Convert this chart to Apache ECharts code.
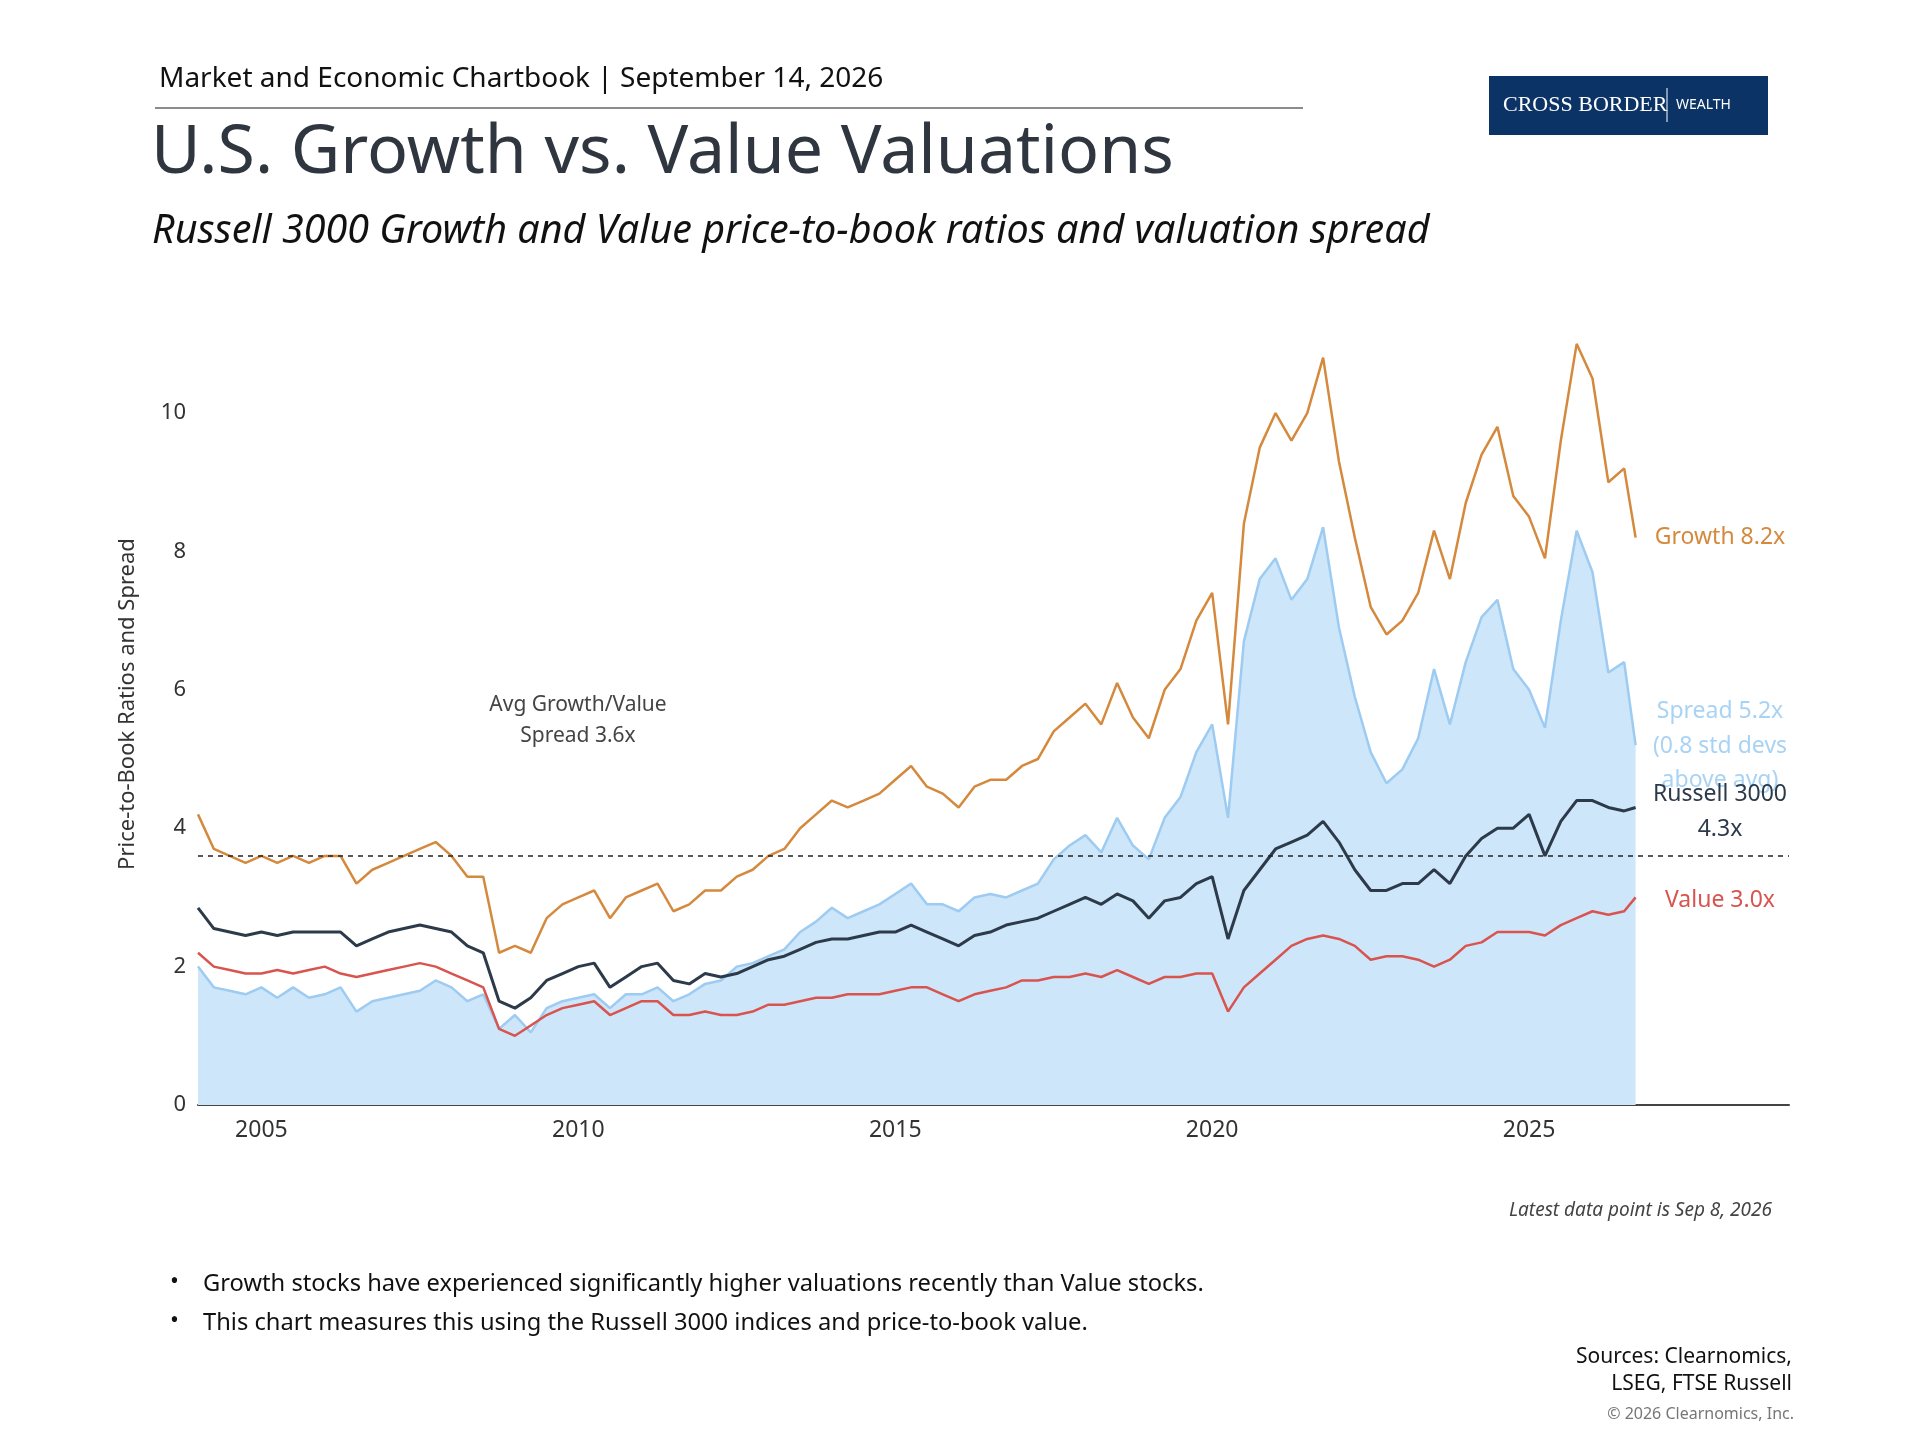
<!DOCTYPE html>
<html><head><meta charset="utf-8">
<script src="https://cdn.jsdelivr.net/npm/echarts@6/dist/echarts.min.js"></script>
<style>html,body{margin:0;padding:0;background:#fff}#c{width:1920px;height:1440px}</style>
</head><body><div id="c"></div>
<script>
// quarterly observations 2004.00 .. 2026.50, plus latest point (Sep 8, 2026)
const growth = [
4.2,3.7,3.6,3.5, 3.6,3.5,3.6,3.5, 3.6,3.6,3.2,3.4, 3.5,3.6,3.7,3.8, 3.6,3.3,3.3,2.2,
2.3,2.2,2.7,2.9, 3.0,3.1,2.7,3.0, 3.1,3.2,2.8,2.9, 3.1,3.1,3.3,3.4, 3.6,3.7,4.0,4.2,
4.4,4.3,4.4,4.5, 4.7,4.9,4.6,4.5, 4.3,4.6,4.7,4.7, 4.9,5.0,5.4,5.6, 5.8,5.5,6.1,5.6,
5.3,6.0,6.3,7.0, 7.4,5.5,8.4,9.5, 10.0,9.6,10.0,10.8, 9.3,8.2,7.2,6.8, 7.0,7.4,8.3,7.6,
8.7,9.4,9.8,8.8, 8.5,7.9,9.6,11.0, 10.5,9.0,9.2, 8.2];
const value = [
2.2,2.0,1.95,1.9, 1.9,1.95,1.9,1.95, 2.0,1.9,1.85,1.9, 1.95,2.0,2.05,2.0, 1.9,1.8,1.7,1.1,
1.0,1.15,1.3,1.4, 1.45,1.5,1.3,1.4, 1.5,1.5,1.3,1.3, 1.35,1.3,1.3,1.35, 1.45,1.45,1.5,1.55,
1.55,1.6,1.6,1.6, 1.65,1.7,1.7,1.6, 1.5,1.6,1.65,1.7, 1.8,1.8,1.85,1.85, 1.9,1.85,1.95,1.85,
1.75,1.85,1.85,1.9, 1.9,1.35,1.7,1.9, 2.1,2.3,2.4,2.45, 2.4,2.3,2.1,2.15, 2.15,2.1,2.0,2.1,
2.3,2.35,2.5,2.5, 2.5,2.45,2.6,2.7, 2.8,2.75,2.8, 3.0];
const russell = [
2.85,2.55,2.5,2.45, 2.5,2.45,2.5,2.5, 2.5,2.5,2.3,2.4, 2.5,2.55,2.6,2.55, 2.5,2.3,2.2,1.5,
1.4,1.55,1.8,1.9, 2.0,2.05,1.7,1.85, 2.0,2.05,1.8,1.75, 1.9,1.85,1.9,2.0, 2.1,2.15,2.25,2.35,
2.4,2.4,2.45,2.5, 2.5,2.6,2.5,2.4, 2.3,2.45,2.5,2.6, 2.65,2.7,2.8,2.9, 3.0,2.9,3.05,2.95,
2.7,2.95,3.0,3.2, 3.3,2.4,3.1,3.4, 3.7,3.8,3.9,4.1, 3.8,3.4,3.1,3.1, 3.2,3.2,3.4,3.2,
3.6,3.85,4.0,4.0, 4.2,3.6,4.1,4.4, 4.4,4.3,4.25, 4.3];
const spread = [
2.0,1.7,1.65,1.6, 1.7,1.55,1.7,1.55, 1.6,1.7,1.35,1.5, 1.55,1.6,1.65,1.8, 1.7,1.5,1.6,1.1,
1.3,1.05,1.4,1.5, 1.55,1.6,1.4,1.6, 1.6,1.7,1.5,1.6, 1.75,1.8,2.0,2.05, 2.15,2.25,2.5,2.65,
2.85,2.7,2.8,2.9, 3.05,3.2,2.9,2.9, 2.8,3.0,3.05,3.0, 3.1,3.2,3.55,3.75, 3.9,3.65,4.15,3.75,
3.55,4.15,4.45,5.1, 5.5,4.15,6.7,7.6, 7.9,7.3,7.6,8.35, 6.9,5.9,5.1,4.65, 4.85,5.3,6.3,5.5,
6.4,7.05,7.3,6.3, 6.0,5.45,7.0,8.3, 7.7,6.25,6.4, 5.2];
const dates = [];
for (let y = 2004; y <= 2026; y++) for (const q of [0, 0.25, 0.5, 0.75]) if (y + q <= 2026.5) dates.push(y + q);
dates.push(2026.68);
const yearTicks = [2005, 2010, 2015, 2020, 2025];
const yTicks = [0, 2, 4, 6, 8, 10];
const avgSpread = 3.6;

const pair = a => a.map((v, i) => [dates[i], v]);
const F = '"Noto Sans", sans-serif';
const chart = echarts.init(document.getElementById('c'));
const T = (x, y, text, o) => ({type: 'text', x, y, style: Object.assign({text, font: '22px ' + F, fill: '#333'}, o || {})});
chart.setOption({
  animation: false,
  grid: {left: 198, right: 131, top: 330, bottom: 335},
  xAxis: {type: 'value', min: 2004, max: 2029.1,
    axisLine: {lineStyle: {color: '#444', width: 2}},
    axisTick: {show: false}, splitLine: {show: false},
    axisLabel: {customValues: yearTicks, color: '#333', fontSize: 23, fontFamily: F, margin: 14, formatter: v => String(v)}},
  yAxis: {type: 'value', min: 0, max: 11.2,
    axisLine: {show: false}, axisTick: {show: false}, splitLine: {show: false},
    axisLabel: {customValues: yTicks, color: '#333', fontSize: 22, fontFamily: F, margin: 12}},
  series: [
    {type: 'line', data: pair(spread), symbol: 'none', lineStyle: {color: '#9dcbf1', width: 2.5},
     areaStyle: {color: '#cde6f9', opacity: 1}, z: 1,
     markLine: {silent: true, symbol: 'none', label: {show: false},
       lineStyle: {color: '#222', type: [5, 5], width: 1.5},
       data: [[{coord: [2004, avgSpread]}, {coord: [2029.1, avgSpread]}]]}},
    {type: 'line', data: pair(growth), symbol: 'none', lineStyle: {color: '#d4893d', width: 2.5}, z: 3},
    {type: 'line', data: pair(russell), symbol: 'none', lineStyle: {color: '#2c3a4a', width: 3}, z: 4},
    {type: 'line', data: pair(value), symbol: 'none', lineStyle: {color: '#d9534f', width: 2.5}, z: 5}
  ],
  graphic: [
    T(159, 65, 'Market and Economic Chartbook | September 14, 2026', {font: '28px ' + F, fill: '#111'}),
    {type: 'line', shape: {x1: 155, y1: 108, x2: 1303, y2: 108}, style: {stroke: '#666', lineWidth: 1.5}},
    {type: 'rect', shape: {x: 1489, y: 76, width: 279, height: 59}, style: {fill: '#0b3365'}},
    T(1503, 94, 'CROSS BORDER', {font: '22px "Liberation Serif", serif', fill: '#fff'}),
    {type: 'line', shape: {x1: 1667, y1: 88, x2: 1667, y2: 122}, style: {stroke: '#fff', lineWidth: 1}},
    T(1676, 98, 'WEALTH', {font: '14px ' + F, fill: '#fff', letterSpacing: 3}),
    T(151, 120, 'U.S. Growth vs. Value Valuations', {font: '68px ' + F, fill: '#2f3640'}),
    T(152, 212, 'Russell 3000 Growth and Value price-to-book ratios and valuation spread', {font: 'italic 39.5px ' + F, fill: '#111'}),
    {type: 'text', x: 128, y: 704, rotation: Math.PI / 2,
      style: {text: 'Price-to-Book Ratios and Spread', font: '22px ' + F, fill: '#333', align: 'center', verticalAlign: 'middle'}},
    T(578, 705, 'Avg Growth/Value', {align: 'center', verticalAlign: 'middle', fill: '#444', font: '21px ' + F}),
    T(578, 736, 'Spread 3.6x', {align: 'center', verticalAlign: 'middle', fill: '#444', font: '21px ' + F}),
    T(1720, 537, 'Growth 8.2x', {align: 'center', verticalAlign: 'middle', fill: '#d4893d', font: '23px ' + F}),
    T(1720, 711, 'Spread 5.2x', {align: 'center', verticalAlign: 'middle', fill: '#a9d3f4', font: '23px ' + F}),
    T(1720, 746, '(0.8 std devs', {align: 'center', verticalAlign: 'middle', fill: '#a9d3f4', font: '23px ' + F}),
    T(1720, 780, 'above avg)', {align: 'center', verticalAlign: 'middle', fill: '#a9d3f4', font: '23px ' + F}),
    T(1720, 794, 'Russell 3000', {align: 'center', verticalAlign: 'middle', fill: '#2c3a4a', font: '23px ' + F}),
    T(1720, 829, '4.3x', {align: 'center', verticalAlign: 'middle', fill: '#2c3a4a', font: '23px ' + F}),
    T(1720, 900, 'Value 3.0x', {align: 'center', verticalAlign: 'middle', fill: '#d9534f', font: '23px ' + F}),
    T(1772, 1211, 'Latest data point is Sep 8, 2026', {align: 'right', verticalAlign: 'middle', fill: '#444', font: 'italic 19px ' + F}),
    T(170, 1282, '•', {verticalAlign: 'middle', fill: '#111', font: '23.7px ' + F}),
    T(203, 1284, 'Growth stocks have experienced significantly higher valuations recently than Value stocks.', {verticalAlign: 'middle', fill: '#111', font: '23.7px ' + F}),
    T(170, 1321, '•', {verticalAlign: 'middle', fill: '#111', font: '23.7px ' + F}),
    T(203, 1323, 'This chart measures this using the Russell 3000 indices and price-to-book value.', {verticalAlign: 'middle', fill: '#111', font: '23.7px ' + F}),
    T(1792, 1357, 'Sources: Clearnomics,', {align: 'right', verticalAlign: 'middle', fill: '#111', font: '21px ' + F}),
    T(1792, 1384, 'LSEG, FTSE Russell', {align: 'right', verticalAlign: 'middle', fill: '#111', font: '21px ' + F}),
    T(1794, 1414, '© 2026 Clearnomics, Inc.', {align: 'right', verticalAlign: 'middle', fill: '#777', font: '16px ' + F})
  ]
});
</script></body></html>
